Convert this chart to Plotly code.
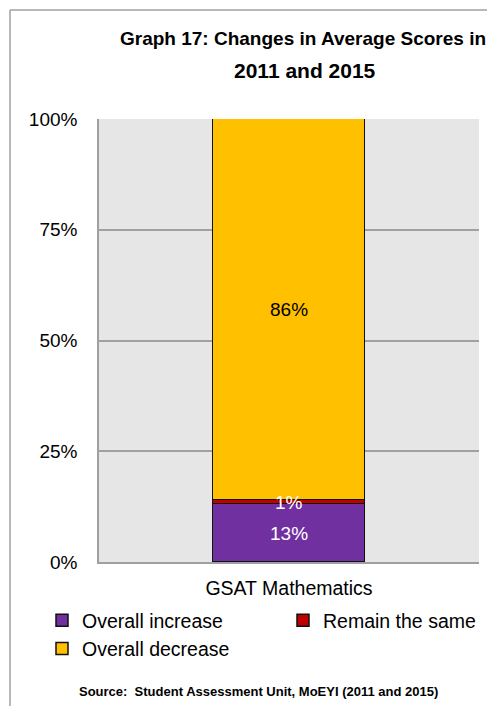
import plotly.graph_objects as go

categories = ["GSAT Mathematics"]
series_names = ["Overall increase", "Remain the same", "Overall decrease"]
series_values = [[13], [1], [86]]
series_colors = ["#7030A0", "#C00000", "#FFC000"]
series_legends = ["legend", "legend2", "legend"]
label_colors = ["white", "white", "black"]
y_ticks = [0, 25, 50, 75, 100]
y_tick_labels = ["0%", "25%", "50%", "75%", "100%"]

FONT = "Liberation Sans, Arial, sans-serif"

fig = go.Figure()
for name, vals, col, lg in zip(series_names, series_values, series_colors, series_legends):
    fig.add_trace(go.Bar(
        x=categories, y=vals, name=name, width=0.4, legend=lg, legendgroup=name,
        marker=dict(color=col, line=dict(color="#111111", width=1.5)),
    ))

# data labels at segment midpoints
cum = [0] * len(categories)
for vals, lc in zip(series_values, label_colors):
    for i, (c, v) in enumerate(zip(categories, vals)):
        fig.add_annotation(x=c, y=cum[i] + v / 2, text=f"{v}%", showarrow=False,
                           font=dict(family=FONT, size=19, color=lc))
        cum[i] += v

# page has an 8px body margin: work in figure coordinates (page - 8)
OFF = 8
W, H = 495 - OFF, 714 - 2 * OFF
L, R, T, B = 99 - OFF, 479 - OFF, 119 - OFF, 562 - OFF
pw, ph = R - L, B - T

def px(x):
    return (x - OFF - L) / pw

def py(y):
    return (B - (y - OFF)) / ph

fig.add_shape(type="line", xref="paper", yref="paper", x0=px(10), x1=px(10), y0=py(10), y1=py(730),
              line=dict(color="#A0A0A0", width=1.5))
fig.add_shape(type="line", xref="paper", yref="paper", x0=px(10), x1=px(520), y0=py(10), y1=py(10),
              line=dict(color="#A0A0A0", width=1.5))

fig.add_annotation(xref="paper", yref="paper", x=px(305), y=py(70), text="<b>2011 and 2015</b>",
                   showarrow=False, font=dict(family=FONT, size=21, color="black"),
                   xanchor="center", yanchor="middle")

fig.add_annotation(xref="paper", yref="paper", x=px(258), y=py(691),
                   text="<b>Source:  Student Assessment Unit, MoEYI (2011 and 2015)</b>",
                   showarrow=False, font=dict(family=FONT, size=13, color="black"),
                   xanchor="center", yanchor="middle")

legend_common = dict(orientation="v", xanchor="left", yanchor="top", tracegroupgap=2,
                     font=dict(family=FONT, size=19.5), traceorder="normal",
                     bgcolor="rgba(0,0,0,0)")

fig.update_layout(
    width=W, height=H,
    margin=dict(l=L, r=W - R, t=T, b=H - B),
    paper_bgcolor="white", plot_bgcolor="#E6E6E6",
    barmode="stack", bargap=0,
    font=dict(family=FONT, size=19, color="black"),
    title=dict(text="<b>Graph 17: Changes in Average Scores in</b>",
               x=(120 - OFF) / W, xanchor="left", y=1 - (38 - OFF) / H, yanchor="middle",
               font=dict(family=FONT, size=19, color="black")),
    showlegend=True,
    legend=dict(x=px(42), y=py(601), **legend_common),
    legend2=dict(x=px(283), y=py(601), **legend_common),
    yaxis=dict(range=[0, 100], tickvals=y_ticks, ticktext=y_tick_labels, showgrid=True,
               gridcolor="#A0A0A0", gridwidth=1.5, showline=True, linecolor="#A0A0A0", linewidth=1.5,
               zeroline=False, ticks="", ticklabelstandoff=16, tickfont=dict(size=19)),
    xaxis=dict(range=[-0.5, 0.5], showline=True, linecolor="#A0A0A0", linewidth=1.5, ticks="",
               tickfont=dict(size=19.5), ticklabelstandoff=8),
)

fig.write_html("out.html")
